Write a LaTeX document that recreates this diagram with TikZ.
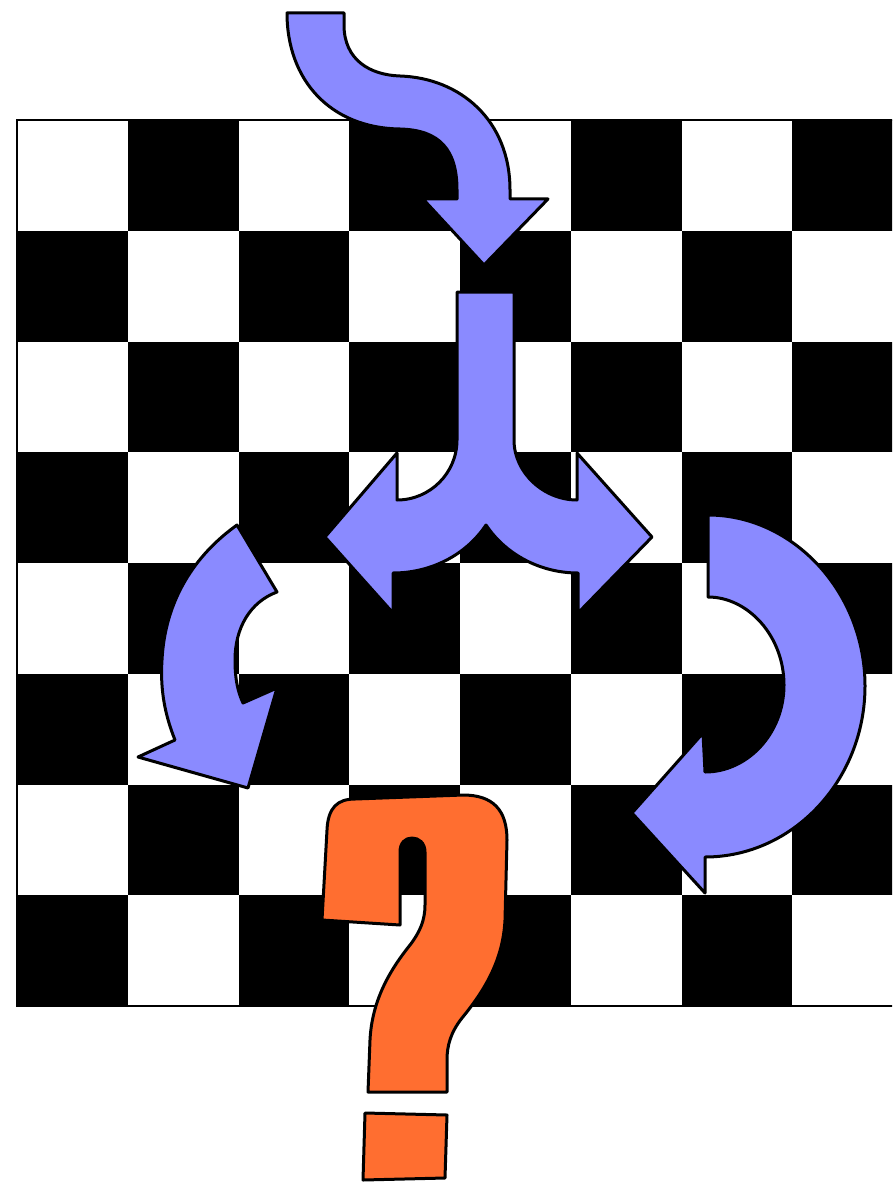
\documentclass[tikz,border=0pt]{standalone}
\usetikzlibrary{calc}
\definecolor{arrowblue}{RGB}{138,138,255}
\definecolor{qorange}{RGB}{255,110,48}
\tikzset{
  blockarrow/.style={fill=arrowblue, draw=black, line width=3pt, line join=round},
  qmark/.style={fill=qorange, draw=black, line width=3pt, line join=round},
  sq/.style={fill=black}
}
\begin{document}
\begin{tikzpicture}[x=1pt,y=-1pt]
\useasboundingbox (0,0) rectangle (892,1182);
\fill[white] (0,0) rectangle (892,1182);
\begin{scope}
\clip (0,0) rectangle (892,1182);
% chessboard
\foreach \r in {0,...,7}{
  \foreach \c in {0,...,7}{
    \pgfmathtruncatemacro\oddsq{mod(\r+\c,2)}
    \ifnum\oddsq=1
      \fill[sq] ({17+\c*110.75},{120+\r*110.75}) rectangle ++(110.75,110.75);
    \fi
  }
}
\draw[line width=2pt] (17,120) rectangle (903,1006);

% S-shaped arrow at top
\path[blockarrow] (287,13) -- (344,13) -- (344,25)
  .. controls (344,60) and (370,75) .. (400,76)
  .. controls (460,78) and (510,120) .. (510,190)
  -- (510,199) -- (548,199) -- (484,265) -- (423,199) -- (457,199) -- (457,190)
  .. controls (457,150) and (440,130) .. (400,129)
  .. controls (330,128) and (287,80) .. (287,13) -- cycle;

% Y-shaped split arrow
\path[blockarrow] (457,292) -- (514,292) -- (514,440)
  .. controls (514,473) and (544,500) .. (577,500)
  -- (577,453) -- (652,537) -- (578,613) -- (578,573)
  .. controls (541,573) and (506,555) .. (486,525)
  .. controls (466,555) and (431,573) .. (393,573)
  -- (393,613) -- (325,537) -- (397,453) -- (397,500)
  .. controls (430,500) and (457,473) .. (457,440) -- cycle;

% left curved arrow
\path[blockarrow] (237,525) -- (277,592)
  .. controls (250,602) and (235,628) .. (235,660)
  .. controls (235,680) and (238,692) .. (243,703)
  -- (277,688) -- (248,788) -- (138,757) -- (175,740)
  .. controls (165,715) and (160,690) .. (162,660)
  .. controls (165,600) and (195,555) .. (237,525) -- cycle;

% right big U-turn arrow
\path[blockarrow] (708,515) -- (708,597)
  .. controls (748,597) and (784,636) .. (784,685)
  .. controls (784,733) and (748,772) .. (705,772)
  -- (703,733) -- (632,813) -- (705,893) -- (705,857)
  .. controls (793,857) and (865,780) .. (865,686)
  .. controls (865,592) and (793,515) .. (708,515) -- cycle;

% question mark
\path[qmark] (322,920) -- (327,830)
  .. controls (328,807) and (338,799) .. (355,799)
  -- (463,795)
  .. controls (493,795) and (507,810) .. (507,840)
  -- (505,920)
  .. controls (503,960) and (485,990) .. (462,1018)
  .. controls (451,1032) and (447,1045) .. (447,1060)
  -- (447,1092) -- (368,1092) -- (370,1040)
  .. controls (372,1000) and (390,970) .. (410,945)
  .. controls (420,932) and (425,920) .. (425,905)
  -- (425,852)
  .. controls (425,843) and (419,838) .. (412,838)
  .. controls (405,838) and (400,843) .. (400,852)
  -- (400,925) -- cycle;
\path[qmark] (365,1113) -- (447,1115) -- (445,1178) -- (363,1180) -- cycle;
\end{scope}
\end{tikzpicture}
\end{document}
